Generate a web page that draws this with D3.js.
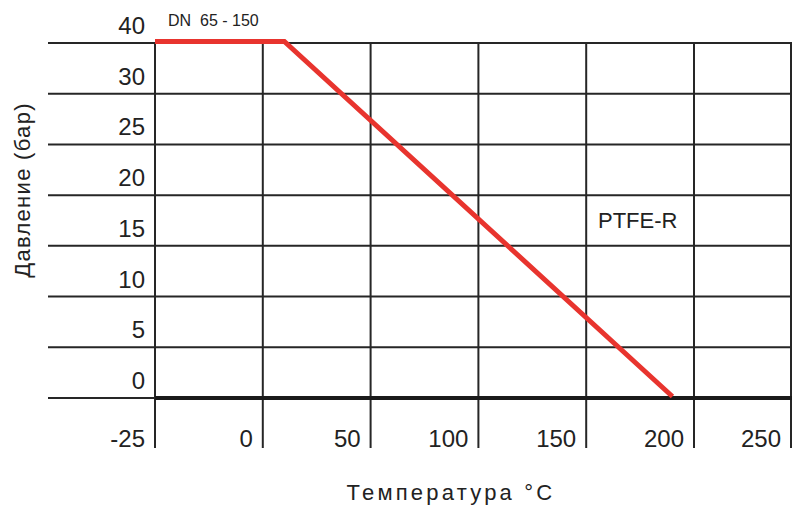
<!DOCTYPE html>
<html>
<head>
<meta charset="utf-8">
<script src="https://cdn.jsdelivr.net/npm/d3@7"></script>
<style>
  body { margin: 0; background: #fff; }
  text { font-family: "Liberation Sans", Arial, sans-serif; fill: #222; }
  .grid line { stroke: #262626; stroke-width: 2; }
</style>
</head>
<body>
<div id="graphic"></div>
<script>
// tick values (the scale is not uniform, each gap is one cell)
var tempTicks = [-25, 0, 50, 100, 150, 200, 250];
var pressTicks = [0, 5, 10, 15, 20, 25, 30, 40];

// PTFE-R curve, DN 65 - 150
var curveTemp = [-25, 10, 190];
var curvePress = [40, 40, 0];

var data = curveTemp.map(function (t, i) { return {t: t, p: curvePress[i]}; });

var width = 792, height = 506;
var plot = {left: 155, right: 791, top: 43, bottom: 398};

var svg = d3.select("#graphic").append("svg")
    .attr("width", width)
    .attr("height", height);

// piecewise scales: every tick gets the same cell size,
// the last column is cut off by the right edge
var colW = 107.8;
var rowH = (plot.bottom - plot.top) / (pressTicks.length - 1);

var x = d3.scaleLinear()
    .domain(tempTicks)
    .range(tempTicks.map(function (d, i) { return Math.min(plot.left + i * colW, plot.right); }));

var y = d3.scaleLinear()
    .domain(pressTicks)
    .range(pressTicks.map(function (d, i) { return plot.bottom - i * rowH; }));

var grid = svg.append("g").attr("class", "grid");

//horizontal lines, they run out to the left under the labels
grid.selectAll(".h")
    .data(pressTicks)
    .enter().append("line")
    .attr("class", "h")
    .attr("x1", 48)
    .attr("x2", width)
    .attr("y1", d => y(d))
    .attr("y2", d => y(d));

//vertical lines, down past the bottom to the labels
grid.selectAll(".v")
    .data(tempTicks)
    .enter().append("line")
    .attr("class", "v")
    .attr("x1", d => x(d))
    .attr("x2", d => x(d))
    .attr("y1", plot.top)
    .attr("y2", 448);

// heavy zero line
svg.append("line")
    .attr("x1", x(-25))
    .attr("x2", width)
    .attr("y1", y(0))
    .attr("y2", y(0))
    .attr("stroke", "#1a1a1a")
    .attr("stroke-width", 4);

// tick labels
svg.selectAll(".ylab")
    .data(pressTicks)
    .enter().append("text")
    .attr("class", "ylab")
    .attr("x", 145)
    .attr("y", d => y(d) - 9)
    .attr("text-anchor", "end")
    .attr("font-size", 24)
    .text(d => d);

svg.selectAll(".xlab")
    .data(tempTicks)
    .enter().append("text")
    .attr("class", "xlab")
    .attr("x", d => x(d) - 10)
    .attr("y", 447)
    .attr("text-anchor", "end")
    .attr("font-size", 24)
    .text(d => d);

// the curve
var line = d3.line()
    .x(d => x(d.t))
    .y(d => y(d.p) - 1.5);

svg.append("path")
    .datum(data)
    .attr("fill", "none")
    .attr("stroke", "#e8342e")
    .attr("stroke-width", 5)
    .attr("d", line);

svg.append("text")
    .attr("x", 168)
    .attr("y", 26)
    .attr("font-size", 16)
    .style("white-space", "pre")
    .text("DN  65 - 150");

svg.append("text")
    .attr("x", 598)
    .attr("y", 228)
    .attr("font-size", 22)
    .text("PTFE-R");

// axis titles
svg.append("text")
    .attr("transform", "translate(451,500)")
    .attr("text-anchor", "middle")
    .attr("font-size", 22)
    .attr("letter-spacing", 3.2)
    .text("Температура °C");

svg.append("text")
    .attr("transform", "translate(30,190) rotate(-90)")
    .attr("text-anchor", "middle")
    .attr("font-size", 22)
    .attr("letter-spacing", 1.3)
    .text("Давление (бар)");
</script>
</body>
</html>
